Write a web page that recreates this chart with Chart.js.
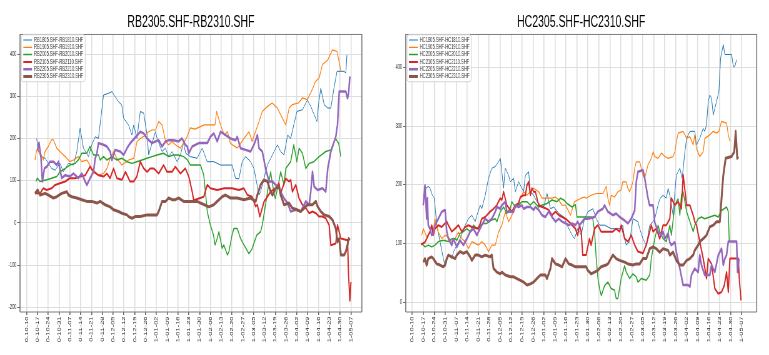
<!DOCTYPE html>
<html><head><meta charset="utf-8">
<script src="https://cdn.jsdelivr.net/npm/chart.js@4"></script>
<style>
html,body{margin:0;padding:0;background:#fff;overflow:hidden;width:769px;height:355px}
.wrap{position:absolute;top:0;height:355px;transform-origin:0 0;transform:scaleX(0.625)}
#w1{left:0;width:614px}
#w2{left:384px;width:616px}
</style></head><body>
<div class="wrap" id="w1"><canvas id="c1" width="614" height="355"></canvas></div>
<div class="wrap" id="w2"><canvas id="c2" width="616" height="355"></canvas></div>
<script>
// ---- tick labels (x values are days counted from 0-10-10) ----
const tickDays = [0,7,14,21,28,35,42,49,56,63,70,77,84,91,98,105,112,119,126,133,140,147,154,161,168,175,182,189,196,203,210];
const tickLabels = ['0-10-10','0-10-17','0-10-24','0-10-31','0-11-07','0-11-14','0-11-21','0-11-28','0-12-05','0-12-12','0-12-19','0-12-26','1-01-02','1-01-09','1-01-16','1-01-23','1-01-30','1-02-06','1-02-13','1-02-20','1-02-27','1-03-05','1-03-12','1-03-19','1-03-26','1-04-02','1-04-09','1-04-16','1-04-23','1-04-30','1-05-07'];
const rbYTicks = [-200,-100,0,100,200,300,400];
const hcYTicks = [0,100,200,300,400];

// ---- series names ----
const rbNames = ['RB1805.SHF-RB1810.SHF','RB1905.SHF-RB1910.SHF','RB2005.SHF-RB2010.SHF','RB2105.SHF-RB2110.SHF','RB2205.SHF-RB2210.SHF','RB2305.SHF-RB2310.SHF'];
const hcNames = ['HC1805.SHF-HC1810.SHF','HC1905.SHF-HC1910.SHF','HC2005.SHF-HC2010.SHF','HC2105.SHF-HC2110.SHF','HC2205.SHF-HC2210.SHF','HC2305.SHF-HC2310.SHF'];

// ---- series values: [day, spread] ----
const rb1805 = [[6.5,200],[7.6,168],[9.7,157],[12,153],[16.2,129],[18.4,125],[21.6,141],[23.8,121],[27,141],[30.3,137],[32.5,169],[34.6,224],[36.8,177],[40,157],[42.2,185],[44.4,204],[46.5,200],[49.8,303],[53,307],[55.2,311],[57.3,299],[59.5,287],[61.6,279],[62.8,248],[66,232],[68.2,208],[69.3,232],[71.5,200],[72.5,232],[73.6,264],[75.8,260],[78,208],[79,161],[81.2,189],[83.4,216],[84.5,200],[87.7,169],[89.8,177],[92,157],[94.2,169],[97.4,145],[99.6,161],[101.5,190],[103,165],[106,157],[110.4,153],[113.7,177],[116.9,145],[121.2,145],[125.6,137],[133.1,137],[135.3,105],[137.5,105],[139.6,145],[141.8,157],[145,145],[147.2,129],[150.5,66],[151.5,74],[153.7,105],[155.9,137],[162.4,185],[164.5,169],[166.7,161],[169,208],[171,200],[173,232],[175,264],[178.6,268],[181.8,291],[184,276],[188,240],[189,280],[190.5,319],[192.7,280],[195,272],[197,272],[199,319],[201,359],[205.6,359],[206.7,355],[207.4,398]];
const rb1905 = [[5.4,149],[6.5,173],[8.7,169],[10.8,149],[11.9,169],[14,181],[16.2,197],[17.3,197],[19.5,177],[22.7,165],[25,157],[28,145],[30.3,149],[33.5,157],[35.7,145],[39,149],[42.2,129],[44.4,121],[46.5,113],[49.8,117],[52,129],[54.1,153],[56.3,169],[58.4,153],[61.7,137],[66,149],[69.3,153],[71.5,193],[73.6,200],[77,208],[79,216],[81.2,220],[83.4,220],[85.5,240],[87.7,232],[90,193],[92,185],[94.2,193],[96.3,185],[99.6,177],[101.7,189],[104,205],[106,225],[109,222],[115,232],[122,232],[123,264],[125.6,232],[128,208],[130,216],[132,188],[136.4,177],[138.5,188],[140.7,200],[144,216],[146,193],[150.5,240],[152.6,264],[156,276],[159,284],[162.4,272],[165.6,248],[167.8,232],[170,272],[172,280],[176,284],[178.6,296],[181.8,292],[185,316],[187,335],[189.4,343],[191.6,375],[195,386],[198,410],[201,406],[203.5,359]];
const rb2005 = [[6,98],[6.9,106],[8.7,98],[13,102],[16.2,106],[19.5,110],[21.6,121],[25,129],[28,137],[31.4,141],[33.5,149],[35.7,165],[39,165],[41,181],[43.3,161],[46.5,161],[47.6,149],[49.8,157],[52,149],[55.2,157],[58.4,149],[61.7,153],[65,145],[68.2,141],[71.4,145],[74.7,149],[77.9,153],[81.2,157],[84.4,161],[88.7,165],[92,157],[95.2,161],[98.4,161],[101.7,157],[104,150],[106,137],[112.6,137],[114.7,113],[117,26],[119,-5],[121,-29],[122,-52],[123.4,-37],[124.5,-21],[126.6,-60],[127.7,-52],[130,-76],[131,-68],[133,-29],[134.2,-13],[136.4,-13],[138.5,-37],[140.7,-52],[144,-73],[146,-61],[149,-29],[151.5,-21],[152.6,-5],[155,50],[157,98],[158,121],[160,74],[161,58],[163,90],[164.5,121],[166.7,90],[167.8,129],[171,145],[173,185],[175,145],[176.4,177],[178.6,165],[180.8,129],[183,141],[186,145],[189.4,157],[193.7,169],[197,173],[200,200],[202,189],[203.5,157]];
const rb2105 = [[5.4,70],[8.7,70],[10.8,82],[12.9,78],[16.2,82],[18.4,90],[21.6,94],[25,98],[28,106],[31.4,106],[34.6,110],[38,113],[41,133],[43.3,121],[46.5,113],[50,110],[52,117],[54,106],[56.3,129],[58.4,106],[61.7,102],[64,121],[67,98],[69.3,98],[71.4,110],[73.6,145],[75.8,129],[78,121],[80.1,129],[82.3,129],[85.5,117],[88.7,137],[90.9,121],[94.2,121],[96.3,133],[99.6,117],[102.8,129],[105,110],[107.2,74],[108.2,54],[111.5,58],[114.7,62],[117,90],[119,82],[123.4,78],[128,82],[133,82],[137.5,78],[140.7,82],[143,66],[146,62],[148.3,39],[149.4,43],[151,15],[153.7,50],[155.9,62],[158,74],[161.3,82],[163.4,94],[164.5,70],[167.8,105],[170,98],[171,102],[172.1,74],[174.3,90],[176.4,58],[178.6,43],[180.8,35],[183,23],[185.1,27],[187.3,23],[189.4,15],[191.6,15],[193.7,11],[195.9,-5],[197,-53],[200.2,-49],[201.3,-5],[203.5,-37],[207.8,-41],[208.5,-124],[209.3,-184],[210,-140]];
const rb2205 = [[7.1,173],[8,190],[9.3,153],[10.2,98],[11.5,129],[13,133],[15.2,145],[17.3,145],[19.5,137],[20.6,145],[22.7,106],[25,113],[28.1,110],[30.3,117],[33.5,106],[35.7,117],[37.9,98],[39,90],[41.1,106],[43.3,121],[44.4,153],[45.5,165],[46.5,189],[49.8,185],[52,181],[54.1,169],[55.2,149],[57.3,173],[60.6,169],[62.8,161],[65,177],[67.1,189],[73.6,216],[75.8,212],[78,200],[79.1,196],[81.2,189],[83.4,193],[85.5,196],[87.7,181],[90,193],[92,196],[95.2,196],[98.4,193],[100.6,200],[102.8,185],[104,181],[105,165],[107.2,181],[111.5,189],[117,189],[119,204],[121.2,212],[123.4,193],[125.6,216],[128.8,208],[132,200],[135.3,196],[136.4,204],[138.5,177],[141.8,173],[145,169],[147.2,185],[149.4,208],[150.5,177],[152.6,169],[155,125],[157,98],[159.2,98],[161.3,90],[163.4,82],[166.7,58],[169,47],[171,27],[174.3,31],[177.5,27],[180.8,51],[183,43],[184,74],[185.1,121],[186.2,86],[188.4,78],[191.6,82],[193.7,74],[195,129],[197,169],[200.2,204],[201.3,232],[202.4,311],[206.7,311],[207.8,295],[208.5,307],[209.3,347]];
const rb2305 = [[5.4,70],[7.1,78],[8.7,66],[12,70],[14,66],[17.3,59],[19.5,62],[22.7,70],[26,74],[27.1,66],[29.2,62],[32.5,59],[35.7,55],[39,51],[42.2,51],[45.5,47],[47.6,51],[50.8,43],[54.1,38],[56.3,31],[59.5,27],[61.7,23],[65,19],[66,15],[68.2,11],[70.3,15],[73.6,15],[78,19],[84.4,19],[85.5,27],[87.7,51],[90,51],[92,59],[94.2,55],[96.3,55],[98.4,59],[101.7,51],[110.4,51],[112.6,47],[118,38],[121.2,43],[123.4,51],[126.6,62],[128.8,66],[132,59],[136.4,59],[140.7,55],[145,59],[148.3,51],[149.4,66],[151.5,90],[153.7,102],[155.9,98],[158,74],[159.2,66],[161.3,82],[163.4,86],[164.5,66],[166.7,43],[169.9,47],[172.1,35],[175.3,31],[177.5,27],[179.7,35],[181.8,43],[185.1,43],[187.3,51],[188.4,39],[190.5,27],[192.7,19],[196,15],[198.1,7],[200.2,-13],[201.3,-45],[202.4,-37],[203.5,-76],[205.6,-76],[206.7,-68],[207.8,-52],[208.5,-37],[209.3,-41]];

const hc1805 = [[7,182],[7.7,177],[8.7,194],[10.2,197],[11.3,194],[12.8,182],[14.1,177],[15.6,131],[17.7,103],[19.8,74],[20.9,63],[23,80],[25.2,74],[26.2,85],[28.4,97],[30.5,108],[33.7,131],[35.8,142],[38,148],[40.1,137],[41.2,148],[43.3,165],[44.3,159],[46.5,182],[48.6,211],[50.7,228],[52.9,231],[55,239],[56.1,245],[57.1,222],[58.2,194],[59.3,228],[61.4,216],[62.5,205],[64.6,211],[65.7,188],[67.8,205],[71,188],[72.1,216],[74.2,222],[75.3,188],[77.4,182],[79.5,171],[81.7,165],[83.8,162],[85.9,185],[88.1,159],[90.2,162],[93.4,151],[96.6,145],[98.7,131],[101.9,114],[103.4,108],[105.5,125],[107.7,114],[109.8,142],[112,154],[115.2,159],[117.3,142],[119.4,131],[122.6,131],[126.8,125],[133.2,125],[134.2,131],[135.4,108],[136.4,97],[138.6,103],[140.7,142],[143.9,137],[145,125],[147.1,108],[149.2,97],[151.4,131],[153.5,137],[154.6,142],[156.7,165],[157.8,176],[159.9,182],[162,177],[163.1,194],[164.2,182],[166.3,148],[167.4,188],[168.4,216],[170.6,228],[172.1,211],[173.8,256],[174.9,279],[177,291],[180.1,291],[181.2,268],[183.3,279],[185.5,296],[186.5,291],[187.6,302],[188.7,342],[189.7,353],[190.8,348],[191.9,319],[194,342],[195.5,359],[196.6,416],[198.3,439],[199.3,422],[203.6,422],[204.7,402],[205.7,402],[206.8,413]];
const hc1905 = [[6,114],[7,125],[9.2,111],[11.3,119],[12.4,131],[13.4,122],[14.5,142],[16.6,119],[18.8,108],[20.9,114],[23,111],[25.2,103],[27.3,108],[29.4,119],[31.6,108],[33.7,103],[35.8,91],[38,103],[40.1,100],[42.2,97],[44.3,103],[46.5,97],[48.6,86],[50.7,97],[52.9,97],[55,119],[57.1,131],[59.3,154],[61.4,137],[62.5,142],[64.6,154],[66.7,165],[68.9,177],[71,188],[73.1,182],[75.3,188],[77.4,194],[80.6,188],[82.7,177],[85.9,177],[89.1,177],[91.3,179],[93.4,174],[95.5,165],[97.7,165],[99.8,154],[100.9,148],[103.4,171],[105.5,174],[107.7,177],[109.8,179],[110.8,177],[114,182],[117.3,185],[121.6,185],[123.7,197],[124.7,177],[125.8,165],[126.8,182],[129,179],[131.1,188],[133.2,191],[134.2,205],[136.4,205],[137.4,194],[138.6,188],[140.7,205],[141.8,228],[142.8,239],[145,239],[147.1,216],[148.2,211],[150.3,234],[152.4,245],[153.5,256],[154.6,248],[156.7,245],[158.9,254],[161,248],[163.1,245],[166.3,248],[167.4,256],[168.4,273],[169.5,288],[172.7,291],[173.8,285],[174.9,279],[177,282],[179.1,268],[180.1,285],[181.2,262],[183.3,248],[185.5,256],[186.5,279],[189.7,285],[191.9,291],[194,288],[195.5,291],[197.2,308],[200.4,305],[201.5,285],[202.5,274]];
const hc2005 = [[6,100],[8.1,94],[10.2,97],[12.4,94],[14.5,97],[16.6,103],[18.8,105],[20.9,105],[23,103],[25.2,108],[27.3,108],[28.4,105],[30.5,117],[32.6,120],[34.8,125],[36.9,120],[39,131],[41.2,125],[43.3,131],[45.4,134],[47.5,134],[50.7,140],[52.9,142],[54,137],[56.1,154],[58.2,162],[60.3,151],[62.5,160],[63.5,171],[65.7,162],[67.8,165],[69.9,171],[73.1,171],[75.3,165],[77.4,171],[80.6,162],[82.7,165],[85.9,168],[89.1,174],[92.3,171],[94.5,177],[96.6,174],[98.7,168],[101.9,162],[104,166],[105,145],[114,145],[115.1,142],[116.2,120],[117.3,74],[118.4,40],[119.4,23],[120.5,11],[122.6,28],[124.7,34],[126.8,23],[129,20],[130,6],[131.1,6],[133.2,40],[135.4,62],[136.4,51],[138.6,40],[140.7,48],[142.8,43],[143.9,34],[146,40],[149.2,37],[151.4,46],[152.4,74],[154.6,108],[156.7,131],[157.8,120],[159.9,108],[162,103],[164.2,131],[165.2,114],[167.4,165],[169.5,176],[170.6,148],[171.6,182],[172.7,188],[174.9,154],[179.1,120],[180.1,131],[182.3,142],[184.4,145],[186.5,142],[189.7,145],[192.9,148],[195.1,145],[197.2,156],[200.4,162],[201.5,154],[202.1,103]];
const hc2105 = [[5.5,98],[8.1,102],[9.2,108],[11.3,120],[12.4,131],[13.4,114],[14.5,125],[16.6,131],[18.8,128],[19.8,131],[22,137],[23,131],[25.2,120],[27.3,125],[29.4,131],[31.6,120],[33.7,128],[35.8,131],[38,128],[42.2,125],[44.3,142],[46.5,145],[49.6,154],[51.8,159],[53.9,165],[56.1,177],[57.1,174],[58.2,188],[60.3,165],[62.5,157],[63.5,154],[65.7,165],[67.8,168],[68.9,179],[71,182],[72.1,182],[73.1,199],[74.2,205],[75.3,182],[76.3,194],[77.4,188],[78.5,188],[80.6,165],[82.7,162],[84.9,160],[87,157],[89.1,148],[91.3,154],[93.4,148],[95.5,145],[97.7,142],[99.8,137],[101.9,131],[104,125],[105.5,114],[106.6,131],[107.7,120],[108.7,80],[110.8,80],[113,108],[114,97],[116.2,125],[118.3,131],[120.4,120],[123.6,120],[127.9,120],[130,125],[132.2,120],[133.2,131],[135.4,108],[137.5,103],[139.6,114],[141.8,97],[143.9,86],[147.1,83],[148.2,91],[149.2,97],[152.4,131],[153.5,120],[155.6,125],[157.8,108],[159.9,131],[162,131],[164.2,142],[165.2,177],[167.4,165],[169.5,171],[171.6,159],[172.7,217],[174.9,165],[177,165],[179.1,148],[180.1,137],[181.2,131],[183.3,103],[185.5,74],[187.6,40],[188.7,74],[190.8,65],[192.9,23],[195.1,14],[197.2,17],[198.9,28],[200.4,51],[201.5,17],[202.5,74],[207.9,74],[208.5,40],[209.6,3]];
const hc2205 = [[7,165],[8.1,199],[9.2,142],[9.6,177],[10.2,131],[11.3,125],[12.4,114],[13.4,117],[14.5,131],[16.6,142],[18.8,154],[20.9,157],[22,120],[23,108],[25.2,97],[26.2,108],[28.4,94],[30.5,105],[32.6,97],[34.8,108],[36.9,120],[39,125],[41.2,114],[42.2,120],[44.3,131],[46.5,142],[48.6,137],[50.7,142],[52.9,154],[54,162],[56.1,159],[57.1,165],[59.3,171],[60.3,154],[64.6,154],[65.7,165],[67.8,162],[69.9,165],[71,159],[73.1,162],[75.3,162],[77.4,157],[78.5,162],[80.6,157],[82.7,148],[84.9,145],[87,154],[89.1,145],[91.3,137],[93.4,142],[95.5,137],[97.7,134],[99.8,131],[101.9,134],[104,131],[105.5,137],[106.6,131],[109.8,142],[112,142],[116.2,145],[118.3,154],[121.5,159],[122.6,165],[124.7,154],[127.9,148],[130,151],[132.2,145],[135.4,139],[137.5,134],[139.6,142],[141.8,156],[142.8,205],[143.9,222],[147.1,225],[148.2,211],[150.3,177],[151.3,165],[153.5,165],[154.6,136],[156.7,120],[158.9,114],[159.9,120],[161,108],[163.1,117],[164.2,102],[165.2,97],[167.4,102],[168.4,85],[170.6,57],[172.7,29],[175.9,29],[177,26],[178,46],[180.1,57],[182.3,51],[183.3,80],[184.4,63],[186.5,46],[189.7,46],[190.8,63],[192.9,51],[195.1,80],[197.2,91],[198.3,63],[199.3,74],[200.4,80],[201.5,103],[206.8,103],[207.4,51],[208.3,74]];
const hc2305 = [[7,68],[8.1,74],[9.2,63],[10.2,74],[12.4,77],[13.4,74],[15.6,65],[17.7,63],[19.8,60],[20.9,63],[22,74],[23,80],[25.2,77],[27.3,74],[28.4,80],[30.5,86],[32.6,83],[34.8,86],[36.9,77],[38,71],[40.1,80],[42.2,80],[44.3,77],[46.5,80],[49.6,77],[50.7,80],[51.8,57],[53.9,51],[56.1,48],[57.1,51],[59.3,46],[62.5,43],[64.6,43],[66.7,40],[68.9,37],[71,34],[73.1,29],[75.3,31],[77.4,34],[79.5,40],[81.7,46],[84.9,46],[85.9,40],[88.1,57],[89.1,74],[91.3,65],[93.4,63],[95.5,60],[97.7,74],[99.8,65],[101.9,63],[104,60],[110.9,60],[111.9,54],[114,48],[116.2,51],[118.3,54],[120.4,60],[123.6,63],[124.7,65],[127.9,80],[130,74],[132.2,71],[135.4,68],[137.5,65],[140.7,63],[142.8,65],[145,65],[147.1,74],[149.2,74],[151.4,91],[153.5,94],[155.6,91],[157.8,85],[159.9,91],[163.1,88],[164.2,80],[166.3,85],[168.4,71],[170.6,63],[172.7,63],[174.9,71],[177,74],[179.1,80],[180.1,88],[182.3,97],[183.3,103],[185.5,108],[187.6,114],[189.7,128],[191.9,131],[194,137],[196.1,137],[197.2,177],[198.3,216],[199.8,245],[203.6,248],[205.3,256],[206.2,291],[207.2,245],[207.9,248]];

// ---- styling ----
const COLORS = ['#1f77b4','#ff7f0e','#2ca02c','#d62728','#9467bd','#8c564b'];
const WIDTHS = [1, 1.2, 1.5, 2, 2.5, 3];
const FONT = "'Liberation Sans', Arial, sans-serif";
Chart.defaults.font.family = FONT;
const SX = 1.6; // drawing surface is 1.6x wider than shown (horizontal squeeze like the reference)

const decor = {
  id: 'decor',
  beforeLayout(chart) {
    const lg = chart.legend;
    if (lg) { lg._layers = function () { return [{ z: 1, draw: (ca) => this.draw(ca) }]; }; }
  },
  afterLayout(chart) {
    const lg = chart.legend, ca = chart.chartArea;
    if (!lg) return;
    lg.left = ca.left + 4.5; lg.top = ca.top + 2;
    lg.right = ca.right; lg.bottom = ca.bottom;
  },
  afterDatasetsDraw(chart) {
    const ctx = chart.ctx, ca = chart.chartArea;
    ctx.save();
    ctx.strokeStyle = '#7a7a7a';
    ctx.lineWidth = 1;
    ctx.beginPath();
    ctx.moveTo(ca.left, ca.top + 0.5); ctx.lineTo(ca.right, ca.top + 0.5);
    ctx.moveTo(ca.left, ca.bottom); ctx.lineTo(ca.right, ca.bottom);
    ctx.stroke();
    ctx.lineWidth = SX;
    ctx.beginPath();
    ctx.moveTo(ca.left, ca.top); ctx.lineTo(ca.left, ca.bottom);
    ctx.moveTo(ca.right, ca.top); ctx.lineTo(ca.right, ca.bottom);
    ctx.stroke();
    const hb = chart.legend && chart.legend.legendHitBoxes;
    if (hb && hb.length) {
      let l = Infinity, t = Infinity, r = -Infinity, b = -Infinity;
      hb.forEach(h => { l = Math.min(l, h.left); t = Math.min(t, h.top); r = Math.max(r, h.left + h.width); b = Math.max(b, h.top + h.height); });
      const x0 = l - 3, y0 = t - 2, x1 = r + 3, y1 = b + 2;
      ctx.beginPath();
      if (ctx.roundRect) ctx.roundRect(x0, y0, x1 - x0, y1 - y0, 3); else ctx.rect(x0, y0, x1 - x0, y1 - y0);
      ctx.fillStyle = 'rgba(255,255,255,0.85)';
      ctx.fill();
      ctx.strokeStyle = '#d4d4d4';
      ctx.lineWidth = 1;
      ctx.stroke();
    }
    ctx.restore();
  }
};

function makeChart(id, title, names, series, yTicks, xr, yr, yAxisW, padRight) {
  return new Chart(document.getElementById(id), {
    type: 'line',
    data: {
      datasets: names.map((n, i) => ({
        label: n,
        data: series[i].map(p => ({ x: p[0], y: p[1] })),
        borderColor: COLORS[i], backgroundColor: COLORS[i],
        borderWidth: WIDTHS[i], pointBorderWidth: WIDTHS[i],
        pointRadius: 0, pointHoverRadius: 0, tension: 0,
        borderJoinStyle: 'round', order: names.length - i
      }))
    },
    options: {
      responsive: false, animation: false, devicePixelRatio: 1,
      events: [],
      layout: { padding: { left: 0, right: padRight, top: 0, bottom: 0 } },
      plugins: {
        title: { display: true, text: title, fullSize: false, color: '#000',
          font: { size: 16.8, weight: 'normal', family: FONT }, padding: { top: 12.4, bottom: 1.4 } },
        legend: { display: true, position: 'chartArea', align: 'start',
          labels: { usePointStyle: true, pointStyle: 'line', pointStyleWidth: 14,
            font: { size: 6.5, family: FONT }, padding: 0.8, color: '#333',
            sort: (a, b) => a.datasetIndex - b.datasetIndex } },
        tooltip: { enabled: false }
      },
      scales: {
        x: {
          type: 'linear', min: xr[0], max: xr[1],
          afterBuildTicks: ax => { ax.ticks = tickDays.map(v => ({ value: v })); },
          ticks: { autoSkip: false, minRotation: 90, maxRotation: 90, padding: 1.5, color: '#222',
            font: { size: 7.5 }, callback: (v, i) => tickLabels[i] },
          grid: { color: '#dedede', lineWidth: SX, tickLength: 3, tickColor: '#666', tickWidth: SX },
          border: { display: false },
          afterFit: ax => { ax.height = 43; ax.paddingLeft = 0; ax.paddingRight = 0; }
        },
        y: {
          type: 'linear', min: yr[0], max: yr[1],
          afterBuildTicks: ax => { ax.ticks = yTicks.map(v => ({ value: v })); },
          ticks: { padding: 1.5, color: '#222', font: { size: 6.3 } },
          grid: { color: '#dedede', lineWidth: 1, tickLength: 4.3, tickColor: '#666', tickWidth: 1 },
          border: { display: false },
          afterFit: ax => { ax.width = yAxisW; ax.paddingTop = 0; ax.paddingBottom = 0; }
        }
      }
    },
    plugins: [decor]
  });
}

makeChart('c1', 'RB2305.SHF-RB2310.SHF', rbNames, [rb1805, rb1905, rb2005, rb2105, rb2205, rb2305],
  rbYTicks, [-4.3, 217.1], [-211, 447.5], 32, 35);
makeChart('c2', 'HC2305.SHF-HC2310.SHF', hcNames, [hc1805, hc1905, hc2005, hc2105, hc2205, hc2305],
  hcYTicks, [-4.2, 219.6], [-17, 457], 34.7, 19.7);
</script></body></html>
